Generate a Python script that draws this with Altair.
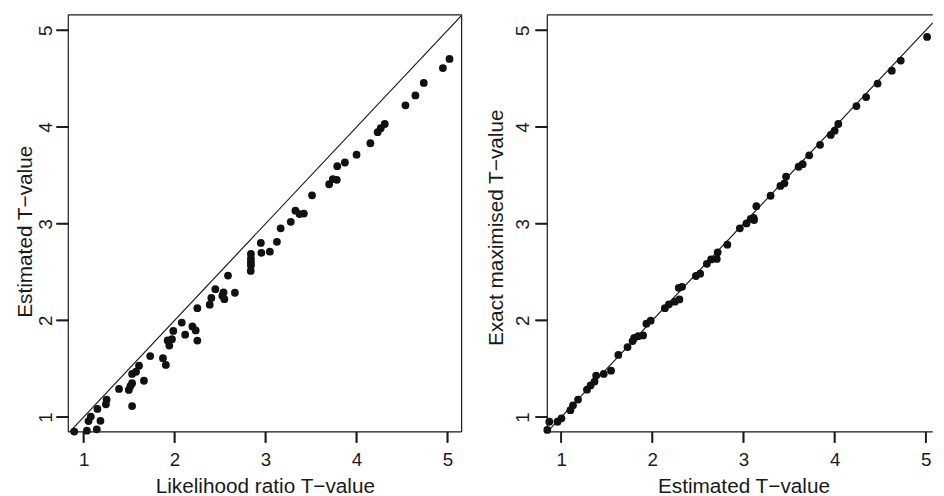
import altair as alt
import pandas as pd

# ---------------- data ----------------
# Left panel: likelihood-ratio T-value (x) vs estimated T-value (y)
lr_t = [5.022, 4.949, 4.739, 4.647, 4.538, 4.310, 4.266, 4.232, 4.152, 4.000,
        3.872, 3.788, 3.783, 3.739, 3.699, 3.511, 3.328, 3.373, 3.421, 3.277,
        3.166, 2.948, 3.125, 2.954, 3.047, 2.839, 2.839, 2.839, 2.839, 2.837,
        2.587, 2.448, 2.404, 2.538, 2.525, 2.547, 2.663, 2.386, 2.250, 2.079,
        1.986, 2.196, 2.232, 2.116, 1.971, 1.924, 1.942, 2.250, 1.732, 1.872,
        1.904, 1.609, 1.576, 1.533, 1.663, 1.533, 1.514, 1.497, 1.389, 1.253,
        1.245, 1.533, 1.152, 1.079, 1.054, 1.185, 1.145, 1.036, 0.897, 1.779]
est_t_left = [4.704, 4.609, 4.456, 4.327, 4.224, 4.031, 3.988, 3.946, 3.832, 3.714,
              3.633, 3.595, 3.454, 3.461, 3.408, 3.293, 3.135, 3.100, 3.105, 3.020,
              2.952, 2.801, 2.813, 2.699, 2.711, 2.687, 2.638, 2.602, 2.568, 2.512,
              2.464, 2.323, 2.232, 2.289, 2.255, 2.219, 2.286, 2.163, 2.126, 1.978,
              1.891, 1.937, 1.896, 1.852, 1.806, 1.793, 1.740, 1.791, 1.631, 1.609,
              1.539, 1.531, 1.469, 1.446, 1.376, 1.350, 1.321, 1.281, 1.291, 1.181,
              1.133, 1.114, 1.084, 1.005, 0.959, 0.962, 0.874, 0.859, 0.850, 0.810]

# Right panel: estimated T-value (x) vs exact maximised T-value (y)
est_t_right = [5.014, 4.725, 4.627, 4.471, 4.345, 4.239, 4.040, 4.000, 3.957, 3.840,
               3.721, 3.649, 3.605, 3.467, 3.449, 3.405, 3.297, 3.141, 3.112, 3.116,
               3.079, 3.033, 2.960, 2.823, 2.717, 2.707, 2.645, 2.598, 2.525, 2.478,
               2.326, 2.290, 2.297, 2.247, 2.182, 2.138, 1.982, 1.935, 1.899, 1.845,
               1.801, 1.783, 1.728, 1.627, 1.547, 1.467, 1.384, 1.366, 1.323, 1.283,
               1.185, 1.130, 1.101, 1.003, 0.960, 0.870, 0.848]
exact_t = [4.932, 4.687, 4.582, 4.449, 4.309, 4.217, 4.031, 3.962, 3.918, 3.816,
           3.707, 3.615, 3.589, 3.487, 3.418, 3.391, 3.289, 3.181, 3.061, 3.038,
           3.051, 3.003, 2.952, 2.783, 2.704, 2.636, 2.630, 2.585, 2.483, 2.459,
           2.347, 2.337, 2.217, 2.194, 2.166, 2.126, 1.997, 1.966, 1.844, 1.837,
           1.819, 1.786, 1.724, 1.643, 1.480, 1.446, 1.429, 1.367, 1.327, 1.283,
           1.181, 1.122, 1.071, 0.987, 0.952, 0.952, 0.867]

tick_values = [1, 2, 3, 4, 5]

x_titles = ["Likelihood ratio T\u2212value", "Estimated T\u2212value"]
y_titles = ["Estimated T\u2212value", "Exact maximised T\u2212value"]

# ---------------- styling / layout ----------------
FONT = "Liberation Sans"
INK = "#1a1a1a"
XT, YT = 11, 12            # outward tick lengths (R style)
BOX_H = 422                # framed plot-box height
YBOX = [0.847, 5.16]       # y range covered by the framed box


def panel(xs, ys, xbox, box_w, xtitle, ytitle, ylabpad, ytitlex, ytitley, xtitlex,
          right_border):
    # the view holds the framed box plus the strip where the ticks sit
    Wv, Hv = box_w + YT, BOX_H + XT
    kx = box_w / (xbox[1] - xbox[0])
    ky = BOX_H / (YBOX[1] - YBOX[0])
    xdom = [xbox[0] - YT / kx, xbox[1]]
    ydom = [YBOX[0] - XT / ky, YBOX[1]]

    df = pd.DataFrame({"x": xs, "y": ys})
    lo, hi = max(xbox[0], YBOX[0]), min(xbox[1], YBOX[1])
    ddf = pd.DataFrame({"x": [lo, hi], "y": [lo, hi]})
    txdf = pd.DataFrame({"x": tick_values})
    tydf = pd.DataFrame({"y": tick_values})

    xscale = alt.Scale(domain=xdom, nice=False, zero=False)
    yscale = alt.Scale(domain=ydom, nice=False, zero=False)
    xaxis = alt.Axis(values=tick_values, format="d", title=xtitle, grid=False,
                     domain=False, ticks=False, tickSize=0,
                     labelFont=FONT, labelFontSize=19, labelColor=INK,
                     labelPadding=8, labelFlush=False, labelOverlap=False,
                     titleFont=FONT, titleFontSize=21, titleFontWeight="normal",
                     titleColor=INK, titleX=xtitlex, titleY=50,
                     titleBaseline="alphabetic", titleAlign="center")
    yaxis = alt.Axis(values=tick_values, format="d", title=ytitle, grid=False,
                     domain=False, ticks=False, tickSize=0,
                     labelFont=FONT, labelFontSize=19, labelColor=INK,
                     labelAngle=270, labelAlign="center", labelBaseline="alphabetic",
                     labelPadding=ylabpad, labelFlush=False, labelOverlap=False,
                     titleFont=FONT, titleFontSize=21, titleFontWeight="normal",
                     titleColor=INK, titleAngle=270, titleX=ytitlex, titleY=ytitley,
                     titleBaseline="alphabetic", titleAlign="center")
    X = alt.X("x:Q", scale=xscale, axis=xaxis)
    Y = alt.Y("y:Q", scale=yscale, axis=yaxis)

    diag = alt.Chart(ddf).mark_line(color=INK, strokeWidth=1.2).encode(x=X, y=Y)
    # R clips points to the plot region: keep only those inside the framed box
    pts = alt.Chart(df).mark_circle(size=62, color="#111111", opacity=1).encode(
        x=X, y=Y).transform_filter(
        (alt.datum.y >= YBOX[0] - 0.02) & (alt.datum.x >= xbox[0] - 0.05))

    one = alt.Data(values=[{"k": 0}])

    def rule(**kw):
        return alt.Chart(one).mark_rule(color=INK, strokeWidth=1.2).encode(**kw)

    frame = [
        rule(x=alt.value(YT), x2=alt.value(Wv), y=alt.value(0)),
        rule(x=alt.value(YT), x2=alt.value(Wv), y=alt.value(BOX_H)),
        rule(x=alt.value(YT), y=alt.value(0), y2=alt.value(BOX_H)),
    ]
    if right_border:
        frame.append(rule(x=alt.value(Wv), y=alt.value(0), y2=alt.value(BOX_H)))

    # outward tick marks, positioned through the scales
    xticks = alt.Chart(txdf).mark_rule(color=INK, strokeWidth=1.8, opacity=1).encode(
        x=X, y=alt.value(BOX_H), y2=alt.value(Hv))
    yticks = alt.Chart(tydf).mark_rule(color=INK, strokeWidth=1.8, opacity=1).encode(
        y=Y, x=alt.value(0), x2=alt.value(YT))
    xtick_r = alt.Chart(txdf).mark_tick(color=INK, orient="vertical", size=XT,
                                        thickness=1.6, opacity=1).encode(
        x=X, y=alt.value(BOX_H + XT / 2))
    ytick_r = alt.Chart(tydf).mark_tick(color=INK, orient="horizontal", size=YT,
                                        thickness=1.6, opacity=1).encode(
        y=Y, x=alt.value(YT / 2))

    layers = [diag, pts] + frame + [xticks, yticks, xtick_r, ytick_r]
    return alt.layer(*layers).properties(width=Wv, height=Hv)


left = panel(lr_t, est_t_left, [0.8315, 5.155], 398, x_titles[0], y_titles[0],
             4.5, -25.5, 219, 210.9, True)
right = panel(est_t_right, exact_t, [0.848, 5.076], 390, x_titles[1], y_titles[1],
              7, -33, 215, 210.5, False)

chart = alt.hconcat(left, right, spacing=74.7, bounds="flush").properties(
    padding={"left": 6, "top": 1, "right": 0, "bottom": 0},
    background="white",
).configure_view(stroke="transparent")

chart.save("out.html", embed_options={"renderer": "svg", "actions": False})
